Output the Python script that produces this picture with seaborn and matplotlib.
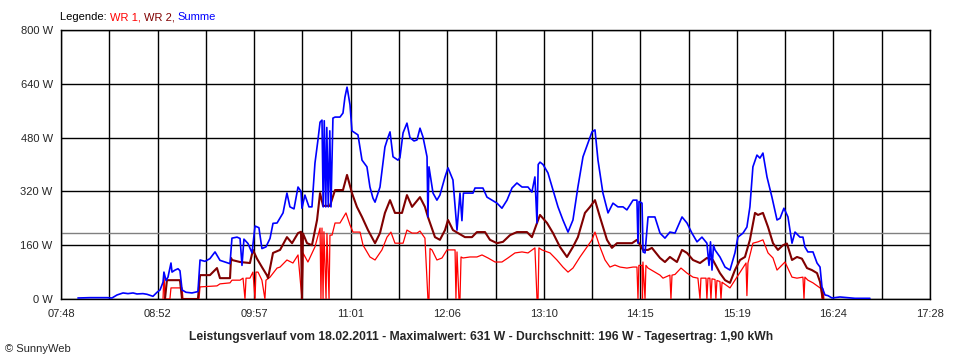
import numpy as np
import pandas as pd
import seaborn as sns
import matplotlib
matplotlib.use("Agg")
import matplotlib.pyplot as plt
from matplotlib.ticker import FixedLocator

# time axis in minutes after midnight, power in W
tick_minutes = [468, 532.4, 596.9, 661.3, 725.8, 790.2, 854.7, 919.1, 983.6, 1048]
tick_labels = ["07:48", "08:52", "09:57", "11:01", "12:06", "13:10",
               "14:15", "15:19", "16:24", "17:28"]
y_ticks = [0, 160, 320, 480, 640, 800]
average_w = 196

wr1_min = [536.1, 536.7, 537.4, 540.7, 541.4, 548.8, 549.4, 560.1, 560.8, 572.1,
           574.1, 580.8, 582.1, 587.5, 589.5, 590.8, 591.5, 594.1, 596.1, 597.5,
           598.1, 599.5, 602.1, 604.1, 604.8, 607.5, 612.2, 614.2, 618.8, 622.8,
           626.2, 628.8, 629.5, 632.8, 637.5, 640.9, 641.5, 642.2, 642.9, 643.5,
           644.9, 645.5, 646.9, 647.5, 648.9, 650.9, 654.2, 658.2, 660.9, 662.9,
           667.6, 669.6, 674.2, 677.6, 682.2, 685.6, 688.2, 690.9, 696.3, 698.9,
           702.3, 705.6, 707.6, 710.9, 712.9, 713.6, 714.3, 715.6, 718.9, 722.3,
           725.6, 731.0, 731.6, 732.3, 733.6, 734.3, 735.0, 736.3, 741.0, 745.6,
           749.0, 753.0, 757.7, 762.3, 766.3, 771.0, 775.7, 779.7, 784.3, 785.7,
           786.4, 787.0, 789.0, 794.4, 799.0, 803.0, 806.4, 809.7, 814.4, 819.1,
           822.4, 824.4, 827.7, 831.1, 834.4, 837.7, 841.1, 845.7, 849.8, 852.4,
           853.1, 853.7, 855.8, 856.1, 856.4, 857.8, 858.4, 859.8, 864.4, 867.8,
           869.8, 874.4, 875.1, 875.8, 877.8, 881.8, 885.8, 889.8, 893.1, 894.5,
           895.1, 898.5, 899.1, 899.8, 901.1, 901.8, 902.5, 904.5, 905.1, 905.8,
           907.8, 908.5, 909.2, 909.8, 914.5, 917.8, 921.2, 925.2, 925.8, 926.5,
           929.8, 933.2, 936.5, 939.9, 943.2, 945.9, 949.2, 951.2, 955.9, 959.2,
           963.2, 963.9, 964.5, 966.5, 969.9, 974.6, 975.2, 975.9, 976.6, 977.2]
wr1_w = [0, 77, 0, 0, 33, 33, 0, 0, 36, 39,
         45, 48, 56, 56, 62, 0, 62, 62, 80, 0,
         80, 80, 56, 0, 56, 65, 92, 95, 116, 107,
         131, 0, 137, 110, 155, 211, 0, 211, 0, 200,
         0, 195, 0, 190, 190, 226, 226, 256, 220, 199,
         199, 160, 125, 116, 146, 184, 199, 166, 166, 205,
         196, 196, 202, 181, 0, 0, 150, 146, 116, 122,
         146, 146, 0, 140, 0, 0, 125, 122, 125, 125,
         131, 122, 110, 110, 122, 137, 140, 137, 152, 0,
         0, 152, 146, 137, 116, 95, 80, 92, 125, 155,
         176, 199, 155, 116, 95, 101, 95, 92, 95, 95,
         0, 100, 100, 0, 110, 0, 100, 92, 80, 71,
         62, 71, 0, 71, 73, 92, 77, 65, 62, 0,
         62, 62, 0, 62, 62, 0, 60, 58, 0, 55,
         52, 0, 50, 48, 33, 56, 80, 107, 10, 107,
         166, 170, 176, 137, 122, 86, 101, 110, 65, 62,
         65, 0, 65, 56, 48, 33, 30, 0, 30, 0]

wr2_min = [537.4, 538.7, 542.1, 547.4, 548.8, 559.4, 560.8, 567.4, 572.1, 574.1,
           580.8, 581.5, 582.1, 587.5, 594.1, 596.1, 598.8, 602.1, 605.5, 606.2,
           609.5, 614.2, 618.8, 622.2, 626.2, 628.2, 628.8, 629.5, 632.2, 635.5,
           638.9, 640.9, 642.9, 647.5, 650.9, 656.2, 658.9, 662.2, 665.5, 668.9,
           672.9, 677.6, 680.9, 684.2, 687.6, 690.9, 695.6, 698.9, 702.3, 707.6,
           710.9, 712.9, 717.6, 720.9, 724.3, 726.3, 729.6, 733.0, 737.6, 742.3,
           745.6, 751.0, 754.3, 759.0, 763.0, 767.7, 772.3, 779.0, 782.3, 785.7,
           787.7, 792.4, 796.4, 801.0, 805.7, 809.7, 813.0, 817.7, 821.1, 824.4,
           827.7, 832.4, 835.7, 839.1, 849.1, 852.4, 856.4, 859.8, 862.4, 867.8,
           871.1, 874.4, 879.1, 882.5, 885.8, 889.8, 894.5, 899.1, 903.1, 907.8,
           911.2, 914.5, 917.8, 921.2, 924.5, 927.8, 931.2, 933.2, 936.5, 939.9,
           943.2, 946.5, 949.9, 952.5, 955.9, 959.2, 962.5, 965.9, 969.2, 972.6,
           974.6, 975.9, 976.6]
wr2_w = [0, 56, 56, 56, 0, 0, 71, 71, 92, 62,
         62, 122, 116, 110, 107, 146, 120, 95, 70, 62,
         137, 146, 184, 166, 196, 200, 0, 195, 166, 160,
         235, 315, 277, 277, 324, 324, 369, 315, 274, 244,
         205, 166, 196, 256, 294, 256, 256, 309, 274, 303,
         274, 244, 184, 176, 205, 235, 205, 196, 184, 184,
         199, 199, 176, 166, 170, 190, 199, 199, 184, 226,
         250, 226, 196, 155, 125, 155, 184, 256, 274, 294,
         244, 176, 152, 166, 166, 176, 146, 146, 152, 122,
         110, 125, 110, 146, 137, 116, 107, 122, 116, 77,
         56, 48, 86, 116, 125, 176, 256, 250, 256, 214,
         166, 146, 160, 165, 116, 125, 120, 92, 86, 77,
         51, 18, 0]

sum_min = [479.3, 487.4, 498.7, 502.0, 505.4, 509.4, 512.7, 516.1, 518.7, 522.7,
           525.4, 529.4, 532.1, 534.1, 536.1, 536.7, 538.1, 539.4, 541.4, 542.1,
           544.1, 546.1, 547.4, 548.8, 551.4, 555.4, 559.4, 560.8, 564.1, 567.4,
           570.8, 574.1, 577.5, 580.8, 582.1, 585.5, 587.5, 588.8, 590.1, 592.8,
           595.5, 597.5, 600.1, 602.1, 604.8, 607.5, 609.5, 612.2, 616.2, 618.8,
           620.8, 623.5, 626.2, 628.2, 628.8, 630.8, 633.5, 635.5, 637.5, 639.5,
           640.9, 642.2, 643.0, 643.7, 644.7, 645.4, 646.4, 647.4, 648.2, 649.5,
           650.9, 654.2, 656.2, 657.5, 658.9, 659.5, 660.9, 662.2, 664.2, 666.2,
           668.9, 672.2, 674.2, 676.2, 677.6, 680.9, 684.2, 686.2, 687.6, 689.6,
           692.9, 694.2, 696.3, 698.9, 700.9, 703.6, 705.6, 707.6, 709.6, 712.3,
           712.9, 713.6, 716.3, 718.9, 720.9, 724.3, 726.3, 729.6, 732.3, 734.3,
           735.6, 736.6, 743.0, 744.3, 749.6, 752.3, 755.6, 759.0, 762.3, 765.7,
           769.0, 772.3, 775.7, 779.7, 782.3, 784.3, 785.7, 786.5, 787.7, 789.7,
           793.0, 796.4, 799.7, 803.0, 806.4, 809.7, 813.0, 816.4, 819.7, 822.4,
           824.4, 826.4, 829.7, 833.1, 836.4, 839.7, 843.1, 845.7, 849.8, 852.4,
           853.1, 853.8, 855.8, 856.5, 857.8, 859.8, 864.4, 867.8, 871.1, 874.4,
           877.8, 882.5, 885.8, 889.1, 892.5, 895.8, 899.1, 900.5, 901.5, 902.5,
           903.5, 904.5, 907.8, 911.2, 914.5, 917.8, 919.8, 923.2, 925.8, 927.8,
           929.8, 932.5, 934.5, 936.5, 939.2, 942.5, 945.9, 947.9, 950.5, 953.2,
           955.9, 957.9, 961.2, 963.2, 964.5, 966.5, 969.9, 972.6, 974.6, 975.9,
           977.9, 979.9, 982.6, 987.9, 997.9, 1007.9]
sum_w = [3, 4, 4, 3, 12, 18, 16, 18, 15, 16,
         14, 8, 20, 27, 50, 80, 55, 65, 107, 80,
         86, 90, 84, 27, 20, 18, 22, 116, 112, 120,
         140, 115, 110, 105, 181, 184, 180, 100, 178, 165,
         137, 217, 212, 150, 155, 180, 225, 226, 256, 315,
         274, 268, 333, 320, 270, 309, 274, 274, 404, 473,
         526, 532, 274, 530, 274, 510, 274, 500, 274, 538,
         541, 541, 553, 600, 630, 615, 577, 500, 494, 488,
         413, 393, 333, 300, 288, 333, 452, 480, 497, 423,
         413, 420, 494, 523, 480, 470, 473, 508, 482, 423,
         244, 393, 315, 294, 309, 363, 390, 354, 205, 315,
         233, 315, 315, 330, 330, 303, 294, 285, 270, 294,
         330, 345, 333, 333, 318, 363, 226, 400, 407, 400,
         375, 324, 274, 235, 199, 235, 333, 423, 464, 497,
         503, 413, 315, 256, 285, 274, 274, 265, 294, 294,
         166, 290, 285, 140, 137, 244, 244, 196, 181, 199,
         196, 244, 226, 196, 170, 184, 166, 100, 170, 86,
         160, 146, 125, 95, 86, 137, 184, 196, 214, 274,
         393, 428, 419, 434, 363, 303, 235, 240, 270, 244,
         166, 199, 184, 184, 155, 140, 140, 107, 95, 36,
         12, 10, 3, 6, 2, 2]

sns.set_style("white")
plt.rcParams["font.family"] = ["Liberation Sans", "DejaVu Sans"]
plt.rcParams["font.size"] = 8

fig = plt.figure(figsize=(9.6, 3.6), dpi=100)
ax = fig.add_axes([61 / 960, 61 / 360, 869 / 960, 269 / 360])

# grid first, data on top
minor_x = np.linspace(468, 1048, 19)
for xv in minor_x:
    ax.axvline(xv, color="black", lw=1.0, zorder=1)
for yv in y_ticks:
    ax.axhline(yv, color="black", lw=1.0, zorder=1)
ax.axhline(average_w, color="#808080", lw=1.0, zorder=2)

sns.lineplot(x=wr1_min, y=wr1_w, color="#ff0000", lw=0.9, ax=ax,
             estimator=None, sort=False, zorder=3)
sns.lineplot(x=wr2_min, y=wr2_w, color="#800000", lw=1.5, ax=ax,
             estimator=None, sort=False, zorder=4)
sns.lineplot(x=sum_min, y=sum_w, color="#0000ff", lw=1.2, ax=ax,
             estimator=None, sort=False, zorder=5)

ax.set_xlim(468, 1048)
ax.set_ylim(0, 800)
ax.set_xticks(tick_minutes)
ax.set_xticklabels(tick_labels)
ax.xaxis.set_minor_locator(FixedLocator(minor_x))
ax.set_yticks(y_ticks)
ax.set_yticklabels([f"{v} W" for v in y_ticks])
ax.tick_params(axis="both", which="both", direction="out", length=4,
               width=1.0, color="black", labelsize=8, pad=2)
ax.tick_params(axis="x", pad=3)
for s in ax.spines.values():
    s.set_color("black")
    s.set_linewidth(1.0)
ax.set_xlabel("")
ax.set_ylabel("")

# legend line at the top
t0 = fig.text(60 / 960, 1 - 17 / 360, "Legende: ", color="black",
              fontsize=8, va="center")
t1 = ax.annotate("WR 1, ", xy=(1, 0), xycoords=t0, va="bottom",
                 color="#ff0000", fontsize=8, annotation_clip=False)
t2 = ax.annotate("WR 2, ", xy=(1, 0), xycoords=t1, va="bottom",
                 color="#800000", fontsize=8, annotation_clip=False)
ax.annotate("Summe", xy=(1, 0), xycoords=t2, va="bottom",
            color="#0000ff", fontsize=8, annotation_clip=False)

fig.text(481 / 960, 1 - 337 / 360,
         "Leistungsverlauf vom 18.02.2011 - Maximalwert: 631 W - "
         "Durchschnitt: 196 W - Tagesertrag: 1,90 kWh",
         ha="center", va="center", fontsize=8.7, fontweight="bold")
fig.text(5 / 960, 1 - 349 / 360, "© SunnyWeb", ha="left", va="center",
         fontsize=8)

fig.savefig("out.png", dpi=100, facecolor="white")
